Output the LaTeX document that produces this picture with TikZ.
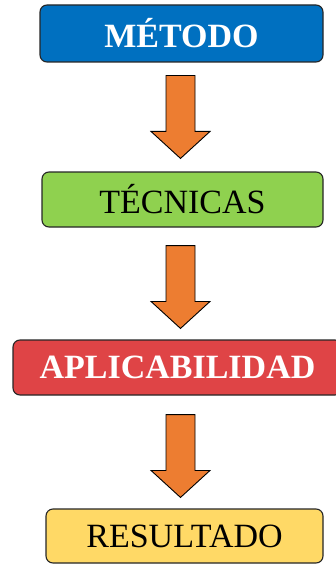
\documentclass[tikz,border=0pt]{standalone}
\usepackage{fontspec}
\setmainfont{Liberation Serif}
\usetikzlibrary{calc}
\definecolor{cblue}{HTML}{0070C0}
\definecolor{cgreen}{HTML}{8FD14F}
\definecolor{cred}{HTML}{DF4446}
\definecolor{cyellow}{HTML}{FFD966}
\definecolor{corange}{HTML}{ED7D31}
\tikzset{
  box/.style={draw=black!85, line width=1.1pt, rounded corners=7pt, inner sep=0pt, font=\fontsize{34}{36}\selectfont},
  barrowstyle/.style={draw=black, line width=0.9pt, fill=corange, line join=miter}
}
\newcommand{\blockarr}[4]{%
  \draw[barrowstyle] ($(ax|-#1.south)+(-14.5pt,-#3)$) -- ($(ax|-#1.south)+(14.5pt,-#3)$)
    -- ($(ax|-#2.north)+(14.5pt,#4+27pt)$) -- ($(ax|-#2.north)+(29.5pt,#4+27pt)$)
    -- ($(ax|-#2.north)+(0pt,#4)$) -- ($(ax|-#2.north)+(-29.5pt,#4+27pt)$)
    -- ($(ax|-#2.north)+(-14.5pt,#4+27pt)$) -- cycle;}
\begin{document}
\begin{tikzpicture}[x=1pt,y=-1pt]
\useasboundingbox (0,0) rectangle (335,564);
\coordinate (ax) at (180.5,0);
\node[box, fill=cblue, text=white, minimum width=283pt, minimum height=57pt] (m) at (181.5,33.5) {\textbf{MÉTODO}};
\node[box, fill=cgreen, text=black, minimum width=281pt, minimum height=55pt] (t) at (182.5,199.5) {TÉCNICAS};
\node[box, fill=cred, text=white, minimum width=329pt, minimum height=55pt] (a) at (177.5,367.5) {\textbf{APLICABILIDAD}};
\node[box, fill=cyellow, text=black, minimum width=277pt, minimum height=54pt] (r) at (184.5,536) {RESULTADO};
\blockarr{m}{t}{13pt}{13pt}
\blockarr{t}{a}{18pt}{11pt}
\blockarr{a}{r}{19pt}{11pt}
\end{tikzpicture}
\end{document}
